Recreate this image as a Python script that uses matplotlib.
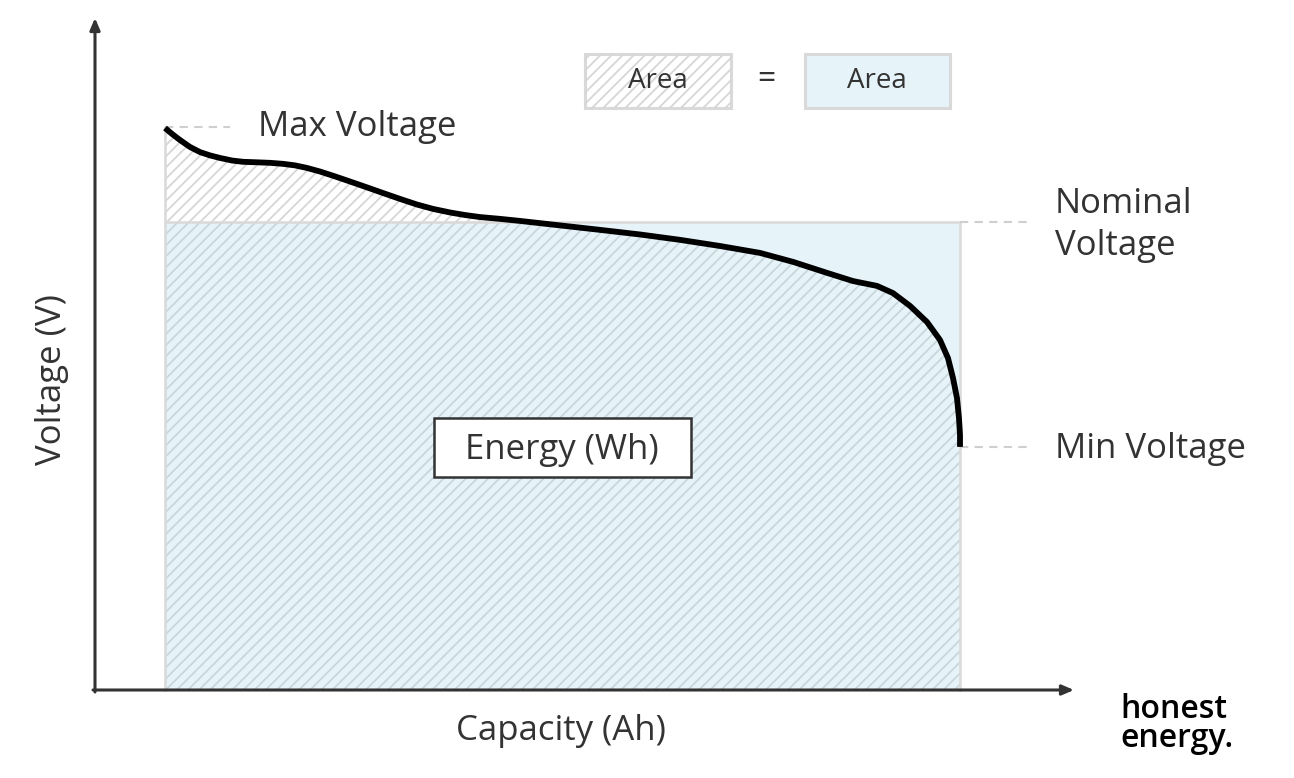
import matplotlib
matplotlib.use("Agg")
import matplotlib.pyplot as plt
import numpy as np
from matplotlib.patches import Rectangle

# ---- data (discharge curve) ----
capacity = [0, 0.88, 1.89, 3.14, 4.40, 5.66, 6.92, 8.43, 9.81, 11.57, 13.21,
            14.84, 16.35, 17.86, 19.50, 21.38, 23.27, 25.41, 27.42, 29.56, 31.70,
            33.71, 35.85, 37.74, 39.62, 42.14, 44.65, 54.72, 59.75, 64.78, 69.81,
            74.84, 78.99, 83.27, 86.54, 89.56, 91.57, 93.71, 95.85, 97.48, 98.49,
            99.12, 99.62, 99.87, 100.0, 100.0]
voltage = [4.196, 4.173, 4.149, 4.122, 4.102, 4.089, 4.079, 4.069, 4.064, 4.062,
           4.060, 4.056, 4.050, 4.040, 4.026, 4.007, 3.987, 3.964, 3.942, 3.919,
           3.897, 3.880, 3.866, 3.856, 3.848, 3.841, 3.833, 3.798, 3.780, 3.759,
           3.735, 3.708, 3.673, 3.630, 3.598, 3.579, 3.551, 3.501, 3.438, 3.368,
           3.297, 3.219, 3.141, 3.063, 2.997, 2.950]
v_max = 4.20
v_nom = 3.83
v_min = 2.95
v_base = 2.0
cap_full = 100.0

labels = {"max": "Max Voltage", "nom": "Nominal\nVoltage", "min": "Min Voltage",
          "energy": "Energy (Wh)", "xlabel": "Capacity (Ah)", "ylabel": "Voltage (V)",
          "area": "Area", "logo": "honest\nenergy."}

plt.rcParams['font.family'] = ['Open Sans', 'DejaVu Sans']
plt.rcParams['hatch.linewidth'] = 1.3

W, H = 1294, 778
fig = plt.figure(figsize=(W / 100, H / 100), dpi=100)

# data axes mapped so that capacity 0..100 -> px 165..960, voltage 2.0 at px 690
px_per_cap = (960 - 165) / 100.0
px_per_v = (690 - 127) / (v_max - v_base)
ax = fig.add_axes([0, 0, 1, 1])
ax.set_xlim(-165 / px_per_cap, (W - 165) / px_per_cap)
ax.set_ylim(v_base - (H - 690) / px_per_v, v_base + 690 / px_per_v)
ax.axis('off')

# overlay axes in pixel layout coordinates for annotations
lay = fig.add_axes([0, 0, 1, 1], zorder=5)
lay.set_xlim(0, W)
lay.set_ylim(H, 0)
lay.axis('off')
lay.patch.set_alpha(0)

cap = np.array(capacity)
volt = np.array(voltage)

TXT = '#333333'
GREY = '#d9d9d9'
BLUE = '#e6f3f9'
HATCH_IN = '#c9d6dc'
HATCH_OUT = '#d6d6d6'

# nominal energy rectangle (blue)
ax.add_patch(Rectangle((0, v_base), cap_full, v_nom - v_base, facecolor=BLUE,
                       edgecolor='none', zorder=1))
# hatch below curve inside rectangle
ax.fill_between(cap, v_base, np.minimum(volt, v_nom), facecolor='none',
                edgecolor=HATCH_IN, hatch='///', linewidth=0, zorder=2)
# hatch above rectangle, below curve
ax.fill_between(cap, v_nom, volt, where=volt >= v_nom, interpolate=True,
                facecolor='white', edgecolor=HATCH_OUT, hatch='///', linewidth=0, zorder=2)
# rectangle outline
ax.plot([0, 0, cap_full, cap_full], [v_base, v_nom, v_nom, v_base], color=GREY,
        lw=1.8, zorder=3, solid_joinstyle='miter')
ax.plot([0, 0], [v_nom, v_max], color=GREY, lw=1.8, zorder=3)

# discharge curve
ax.plot(cap, volt, color='black', lw=4.2, zorder=4, solid_joinstyle='round',
        solid_capstyle='butt')

# dashed reference lines
dash = dict(color='#cfcfcf', lw=1.5, ls=(0, (4, 3)), zorder=3)
ax.plot([0, 65 / px_per_cap], [v_max, v_max], **dash)
ax.plot([cap_full, cap_full + 70 / px_per_cap], [v_nom, v_nom], **dash)
ax.plot([cap_full, cap_full + 70 / px_per_cap], [v_min, v_min], **dash)

# axes arrows
lay.annotate('', xy=(95, 18), xytext=(95, 692),
             arrowprops=dict(arrowstyle='-|>,head_length=0.7,head_width=0.3',
                             color=TXT, lw=2.2, shrinkA=0, shrinkB=0))
lay.annotate('', xy=(1074, 690), xytext=(93, 690),
             arrowprops=dict(arrowstyle='-|>,head_length=0.7,head_width=0.3',
                             color=TXT, lw=2.2, shrinkA=0, shrinkB=0))

fs = 25
lay.text(258, 127, labels["max"], fontsize=fs, color=TXT, va='center', ha='left')
lay.text(1055, 225, labels["nom"], fontsize=fs, color=TXT, va='center', ha='left',
         linespacing=1.32)
lay.text(1055, 449, labels["min"], fontsize=fs, color=TXT, va='center', ha='left')
lay.text(561, 731, labels["xlabel"], fontsize=fs, color=TXT, va='center', ha='center')
lay.text(52, 380, labels["ylabel"], fontsize=fs, color=TXT, va='center', ha='center',
         rotation=90)

# energy box
lay.add_patch(Rectangle((434, 418), 257, 59, facecolor='white', edgecolor=TXT, lw=1.8))
lay.text(562, 450, labels["energy"], fontsize=fs, color=TXT, va='center', ha='center')

# legend boxes
lay.add_patch(Rectangle((585, 54), 146, 54, facecolor='white', edgecolor=GREY, lw=2.2))
lay.add_patch(Rectangle((585, 54), 146, 54, facecolor='none', edgecolor=HATCH_OUT,
                        hatch='///', lw=0))
lay.add_patch(Rectangle((805, 54), 145, 54, facecolor=BLUE, edgecolor=GREY, lw=2.2))
lay.text(658, 81, labels["area"], fontsize=20, color=TXT, va='center', ha='center')
lay.text(877, 81, labels["area"], fontsize=20, color=TXT, va='center', ha='center')
lay.text(766, 79, '=', fontsize=23, color=TXT, va='center', ha='center')

# logo
lay.text(1120, 724, labels["logo"], fontsize=23, color='black', va='center',
         ha='left', linespacing=0.86, fontweight='semibold')

fig.savefig('out.png', dpi=100)
